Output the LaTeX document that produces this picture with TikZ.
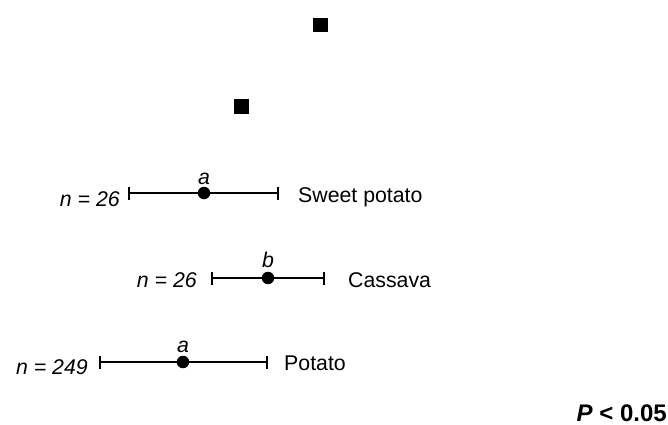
\documentclass[tikz,border=0pt]{standalone}
\usepackage{fontspec}
\setmainfont{Liberation Sans}
\begin{document}
\begin{tikzpicture}[x=1pt,y=-1pt,
  txt/.style={inner sep=0pt,font=\fontsize{21.3}{25}\selectfont},
  itx/.style={txt,font=\fontsize{21.3}{25}\selectfont\itshape},
  bar/.style={line width=1.1pt,black},
  whisk/.style={line width=1.1pt},
  mean/.style={circle,fill=black,inner sep=0pt,minimum size=12.5pt},
  sq/.style={rectangle,fill=black,inner sep=0pt,minimum size=14.5pt}]
\useasboundingbox (0,0) rectangle (668,424);
% squares
\node[sq] (s1) at (320.5,25) {};
\node[sq] (s2) at (241.5,106.5) {};
% Sweet potato
\coordinate (spL) at (129,193);
\coordinate (spR) at (278,193);
\draw[bar] (spL) -- (spR);
\draw[whisk] ([yshift=-6.5pt]spL) -- ([yshift=6.5pt]spL);
\draw[whisk] ([yshift=-6.5pt]spR) -- ([yshift=6.5pt]spR);
\node[mean] (spM) at (204,193) {};
\node[itx,anchor=base] (spA) at (204,184) {a};
\node[itx,anchor=base east] (spN) at (120,206) {n = 26};
\node[txt,anchor=base west] (spT) at (298,202) {Sweet potato};
% Cassava
\coordinate (caL) at (212,278);
\coordinate (caR) at (324,278);
\draw[bar] (caL) -- (caR);
\draw[whisk] ([yshift=-6.5pt]caL) -- ([yshift=6.5pt]caL);
\draw[whisk] ([yshift=-6.5pt]caR) -- ([yshift=6.5pt]caR);
\node[mean] (caM) at (268,278) {};
\node[itx,anchor=base] (caB) at (268,267) {b};
\node[itx,anchor=base east] (caN) at (197,287) {n = 26};
\node[txt,anchor=base west] (caT) at (348,287) {Cassava};
% Potato
\coordinate (poL) at (100,362);
\coordinate (poR) at (267,362);
\draw[bar] (poL) -- (poR);
\draw[whisk] ([yshift=-6.5pt]poL) -- ([yshift=6.5pt]poL);
\draw[whisk] ([yshift=-6.5pt]poR) -- ([yshift=6.5pt]poR);
\node[mean] (poM) at (183,362) {};
\node[itx,anchor=base] (poA) at (183,352) {a};
\node[itx,anchor=base east] (poN) at (88,374) {n = 249};
\node[txt,anchor=base west] (poT) at (284,370) {Potato};
% P value
\node[txt,anchor=base east,font=\fontsize{24}{28}\selectfont\bfseries] (pv) at (667,421) {\textit{P} < 0.05};
\end{tikzpicture}
\end{document}
